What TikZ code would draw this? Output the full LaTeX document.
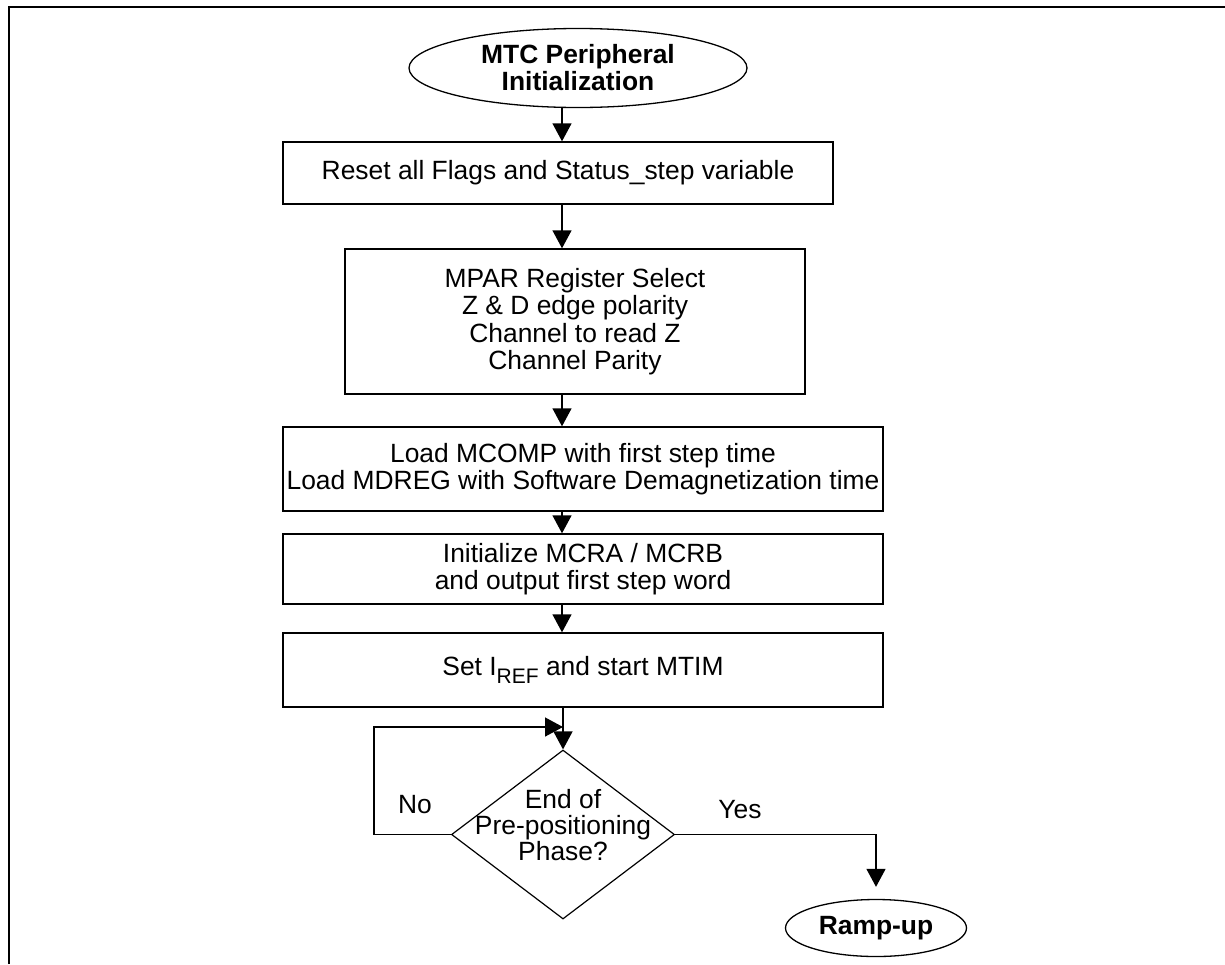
\documentclass[tikz,border=0pt]{standalone}
\usepackage{fontspec}
\setmainfont{Liberation Sans}
\usetikzlibrary{shapes.geometric,arrows.meta}
\begin{document}
\begin{tikzpicture}[x=1pt,y=-1pt,
  every node/.style={inner sep=0pt, font=\fontsize{26.4}{27.5}\selectfont},
  flowbox/.style={draw, line width=1.4pt, rectangle, align=center},
  terminal/.style={draw, line width=1.3pt, ellipse, align=center,
    font=\fontsize{26.4}{27}\selectfont\bfseries},
  decision/.style={draw, line width=1.2pt, diamond},
  link/.style={line width=1.4pt},
  arr/.style={link, -{Triangle[length=18pt,width=19pt]}}]
\useasboundingbox (0,0) rectangle (1225,964);
% page frame (open at the right and at the bottom)
\draw[line width=2pt] (9,964) -- (9,7) -- (1225,7);

% column where the main flow runs
\coordinate (spine) at (562,0);

\node[terminal, minimum width=338pt, minimum height=79pt] (start) at (578,68)
  {MTC Peripheral\\Initialization};
\node[flowbox, minimum width=550pt, minimum height=62pt] (reset) at (558,173)
  {Reset all Flags and Status\_step variable};
\node[flowbox, minimum width=460pt, minimum height=145pt] (mpar) at (575,321.5)
  {MPAR Register Select\\Z \& D edge polarity\\Channel to read Z\\Channel Parity};
\node[flowbox, minimum width=600pt, minimum height=84pt] (load) at (583,469)
  {Load MCOMP with first step time\\Load MDREG with Software Demagnetization time};
\node[flowbox, minimum width=600pt, minimum height=70pt] (init) at (583,569)
  {Initialize MCRA / MCRB\\and output first step word};
\node[flowbox, minimum width=600pt, minimum height=74pt] (iref) at (583,670)
  {Set I\raisebox{-0.3em}{\fontsize{21}{21}\selectfont REF} and start MTIM};
\node[decision, minimum width=223pt, minimum height=169pt] (dec) at (563,834.5)
  {\makebox[0pt]{\smash{\fontsize{26.4}{23.5}\selectfont
   \begin{tabular}{@{}c@{}}End of\\Pre-positioning\\Phase?\end{tabular}}}};
\node[terminal, minimum width=181pt, minimum height=57pt] (ramp) at (876,928)
  {Ramp-up};

\node (no) at (415,805) {No};
\node (yes) at (740,810) {Yes};

% main flow
\draw[arr] (start.south -| spine) -- (reset.north -| spine);
\draw[arr] (reset.south -| spine) -- (mpar.north -| spine);
\draw[arr] (mpar.south -| spine) -- (load.north -| spine);
\draw[arr] (load.south -| spine) -- (init.north -| spine);
\draw[arr] (init.south -| spine) -- (iref.north -| spine);
\draw[arr] (iref.south -| dec.north) -- (dec.north);

% "No": wait and test again
\coordinate (noturn) at (374,727);
\coordinate (nojoin) at (563,727);
\draw[arr] (dec.west) -- (dec.west -| noturn) |- (nojoin);

% "Yes": go on to the ramp-up
\draw[arr, shorten >=12pt] (dec.east) -| (ramp.north);
\end{tikzpicture}
\end{document}
